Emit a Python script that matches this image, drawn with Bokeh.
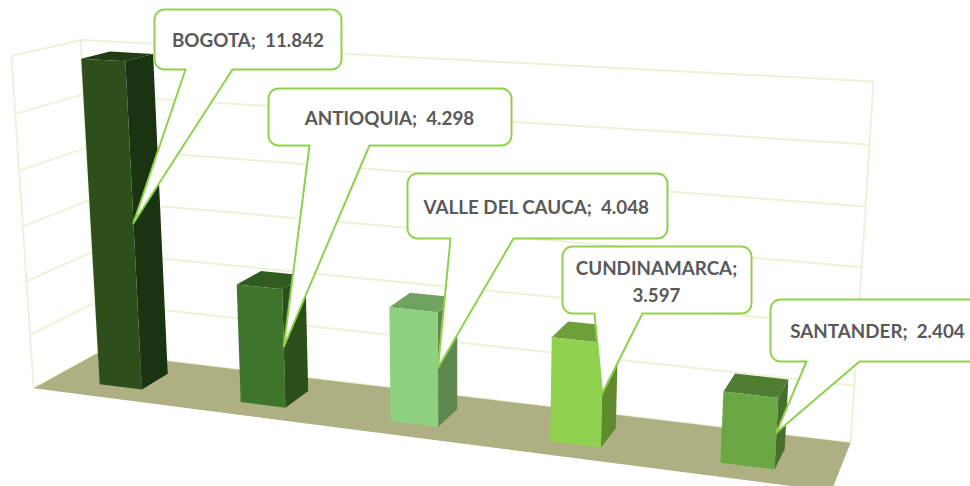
import numpy as np
from bokeh.plotting import figure
from bokeh.models import Range1d
from bokeh.core.properties import value
from bokeh.embed import file_html
from bokeh.resources import INLINE

# --- data ---
categories = ["BOGOTA", "ANTIOQUIA", "VALLE DEL CAUCA", "CUNDINAMARCA", "SANTANDER"]
values = [11842, 4298, 4048, 3597, 2404]
axis_max = 12000
axis_step = 2000

# --- colours (front, side, top) ---
front_colors = ["#2D4F1C", "#3F752B", "#8FD17E", "#90D24F", "#6AA642"]
side_colors = ["#1A3310", "#2B4F1B", "#5D8850", "#5F8A30", "#476F2C"]
top_colors = ["#213D14", "#2F5B1E", "#6FA35F", "#6F9E3B", "#4F7E32"]
FLOOR = "#AEB084"
GRID = "#EDF3D8"
CALLOUT = "#8FD14F"
TEXT = "#595959"

# --- layout of the 3D frame, in page pixels: (u along, v depth, z up) -> picture ---
frame_pts = [
    ((0, 0, 0), (33, 387)), ((1, 0, 0), (831, 491)),
    ((0, 1, 0), (98, 353)), ((1, 1, 0), (850, 442)),
    ((0, 1, 1), (80, 39)), ((1, 1, 1), (873, 81)),
    ((0, 0, 1), (11, 56)),
]
A, b = [], []
for (u, v, z), (X, Y) in frame_pts:
    A.append([u, v, z, 1, 0, 0, 0, 0, -X * u, -X * v, -X * z]); b.append(X)
    A.append([0, 0, 0, 0, u, v, z, 1, -Y * u, -Y * v, -Y * z]); b.append(Y)
sol = np.linalg.lstsq(np.array(A, float), np.array(b, float), rcond=None)[0]
P = np.append(sol, 1.0).reshape(3, 4)


def proj(u, v, z):
    h = P @ np.array([u, v, z, 1.0])
    return h[0] / h[2], h[1] / h[2]


def poly(pts):
    q = [proj(*t) for t in pts]
    return [a for a, _ in q], [c for _, c in q]


W, H = 970, 486
p = figure(width=W, height=H, x_range=Range1d(0, W), y_range=Range1d(H, 0),
           output_backend="svg", toolbar_location=None,
           x_axis_location=None, y_axis_location=None, min_border=0)
p.grid.visible = False
p.outline_line_color = None
p.background_fill_color = "white"

# walls
n = int(axis_max / axis_step)
for k in range(n + 1):
    z = k / n
    xs, ys = poly([(0, 0, z), (0, 1, z), (1, 1, z)])
    p.line(xs, ys, line_color=GRID, line_width=2)
for t in [(0, 0), (0, 1), (1, 1)]:
    xs, ys = poly([(t[0], t[1], 0), (t[0], t[1], 1)])
    p.line(xs, ys, line_color=GRID, line_width=2)

# floor
xs, ys = poly([(0, 0, 0), (1, 0, 0), (1, 1, 0), (0, 1, 0)])
p.patch(xs, ys, fill_color=FLOOR, line_color=None)

# bars
n_cat = len(categories)
bar_w = 0.061
v0, v1 = 0.27, 0.70
tips = []
for i, val in enumerate(values):
    u0 = (i + 0.5) / n_cat - bar_w / 2 + 0.001
    u1 = u0 + bar_w
    z = val / axis_max
    xs, ys = poly([(u1, v0, 0), (u1, v1, 0), (u1, v1, z), (u1, v0, z)])
    p.patch(xs, ys, fill_color=side_colors[i], line_color=None)
    xs, ys = poly([(u0, v0, z), (u1, v0, z), (u1, v1, z), (u0, v1, z)])
    p.patch(xs, ys, fill_color=top_colors[i], line_color=None)
    xs, ys = poly([(u0, v0, 0), (u1, v0, 0), (u1, v0, z), (u0, v0, z)])
    p.patch(xs, ys, fill_color=front_colors[i], line_color=None)
    tips.append(proj(u1, v0, z * 0.52))

# callouts: box left, top, right, bottom, wedge base, text centre
boxes = [(154, 9, 341, 69), (268, 88, 511, 145), (407, 173, 667, 238),
         (562, 246, 751, 313), (770, 299, 984, 361)]
wedges = [(185, 232), (309, 369), (450, 513), (594, 642), (806, 859)]
text_xy = [(247.5, 39), (389, 117), (536, 206), (656, 280.5), (877, 330)]
line_breaks = [False, False, False, True, False]
R = 10


def corner(cx, cy, a0, a1, r=R, m=6):
    t = np.linspace(a0, a1, m)
    return list(cx + r * np.cos(t)), list(cy + r * np.sin(t))


for i, ((l, t, r, bt), (w0, w1), tip) in enumerate(zip(boxes, wedges, tips)):
    pi = np.pi
    X, Y = [], []
    for cx, cy, a0, a1 in [(l + R, t + R, pi, 1.5 * pi), (r - R, t + R, 1.5 * pi, 2 * pi),
                           (r - R, bt - R, 0, 0.5 * pi)]:
        a, c = corner(cx, cy, a0, a1)
        X += a; Y += c
    X += [w1, tip[0], w0]
    Y += [bt, tip[1], bt]
    a, c = corner(l + R, bt - R, 0.5 * pi, pi)
    X += a; Y += c
    X.append(X[0]); Y.append(Y[0])
    p.patch(X, Y, fill_color="white", line_color=CALLOUT, line_width=2, line_join="round")

labels = []
for c, val, br in zip(categories, values, line_breaks):
    num = f"{val:,}".replace(",", ".")
    labels.append(f"{c};\n{num}" if br else f"{c};\u00a0 {num}")

p.text([q[0] for q in text_xy], [q[1] for q in text_xy], text=labels,
       text_font=value("Lato"), text_font_style="bold", text_font_size="18.8px",
       text_color=TEXT, text_align="center", text_baseline="middle", text_line_height=1.2)

open("out.html", "w").write(file_html(p, INLINE))
